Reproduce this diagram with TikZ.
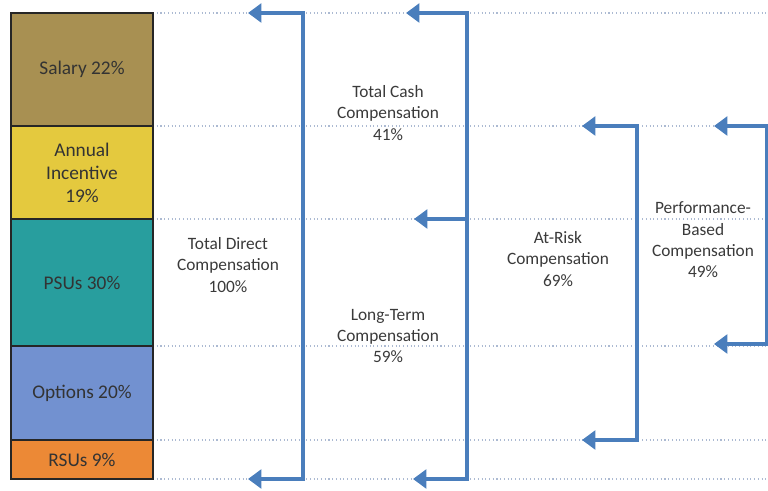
\documentclass[tikz,border=0pt]{standalone}
\usepackage{fontspec}
\setmainfont{Carlito}
\usetikzlibrary{arrows.meta}

\definecolor{salaryfill}{RGB}{168,144,82}
\definecolor{incentivefill}{RGB}{228,201,62}
\definecolor{psufill}{RGB}{40,158,158}
\definecolor{optionfill}{RGB}{114,145,208}
\definecolor{rsufill}{RGB}{236,137,54}
\definecolor{brkblue}{RGB}{74,126,188}
\definecolor{guidegray}{RGB}{172,186,210}
\definecolor{txtgray}{RGB}{58,58,58}

\tikzset{every picture/.style={line width=0.75pt}}
\tikzset{
  bar/.style={draw=black!85, line width=0.9pt},
  lbl/.style={inner sep=0.75pt, align=center, text=txtgray, font=\fontsize{13}{16}\selectfont},
  barlbl/.style={lbl, text=black!80, font=\fontsize{14.5}{17.25}\selectfont},
  guide/.style={draw=guidegray, dotted, line width=0.8pt},
  brk/.style={draw=brkblue, line width=3pt, line join=miter},
  >={Triangle[length=10pt,width=14pt]}
}

\begin{document}
\begin{tikzpicture}[x=0.75pt,y=0.75pt,yscale=-1,xscale=1]
\path[use as bounding box] (0,0) rectangle (768,491);

%Dotted guide lines
\draw[guide] (153,13) -- (768,13) ;
\draw[guide] (153,126) -- (768,126) ;
\draw[guide] (153,219) -- (768,219) ;
\draw[guide] (153,346) -- (768,346) ;
\draw[guide] (153,440) -- (768,440) ;
\draw[guide] (153,479) -- (768,479) ;

%Stacked bar
\draw[bar, fill=salaryfill] (11,13) rectangle node[barlbl] (salary) {Salary 22\%} (153,126) ;
\draw[bar, fill=incentivefill] (11,126) rectangle node[barlbl] (incentive) {Annual\\Incentive\\19\%} (153,219) ;
\draw[bar, fill=psufill] (11,219) rectangle node[barlbl] (psu) {PSUs 30\%} (153,346) ;
\draw[bar, fill=optionfill] (11,346) rectangle node[barlbl] (option) {Options 20\%} (153,440) ;
\draw[bar, fill=rsufill] (11,440) rectangle node[barlbl] (rsu) {RSUs 9\%} (153,479) ;

%Bracket coordinates
\coordinate (tdTipA) at (248,13) ;
\coordinate (tdTop) at (303,13) ;
\coordinate (tdBot) at (303,479) ;
\coordinate (tdTipB) at (248,479) ;
\coordinate (tcTipA) at (406,13) ;
\coordinate (tcTop) at (467,13) ;
\coordinate (tcMid) at (467,219) ;
\coordinate (tcTipM) at (414,219) ;
\coordinate (tcBot) at (467,479) ;
\coordinate (tcTipB) at (413,479) ;
\coordinate (arTipA) at (582,126) ;
\coordinate (arTop) at (637,126) ;
\coordinate (arBot) at (637,440) ;
\coordinate (arTipB) at (582,440) ;
\coordinate (pbTipA) at (714,126) ;
\coordinate (pbTop) at (767,126) ;
\coordinate (pbBot) at (767,344) ;
\coordinate (pbTipB) at (714,344) ;

%Brackets
\draw[brk, <->] (tdTipA) -- (tdTop) -- (tdBot) -- (tdTipB) ;
\draw[brk, <->] (tcTipA) -- (tcTop) -- (tcBot) -- (tcTipB) ;
\draw[brk, ->] (tcMid) -- (tcTipM) ;
\draw[brk, <->] (arTipA) -- (arTop) -- (arBot) -- (arTipB) ;
\draw[brk, <->] (pbTipA) -- (pbTop) -- (pbBot) -- (pbTipB) ;

% Text Node
\node[lbl] (totaldirect) at (228,265) {Total Direct\\Compensation\\100\%} ;
% Text Node
\node[lbl] (totalcash) at (388,113) {Total Cash\\Compensation\\41\%} ;
% Text Node
\node[lbl] (longterm) at (388,336) {Long-Term\\Compensation\\59\%} ;
% Text Node
\node[lbl] (atrisk) at (558,259) {At-Risk\\Compensation\\69\%} ;
% Text Node
\node[lbl] (perfbased) at (703,240) {Performance-\\Based\\Compensation\\49\%} ;

\end{tikzpicture}
\end{document}
